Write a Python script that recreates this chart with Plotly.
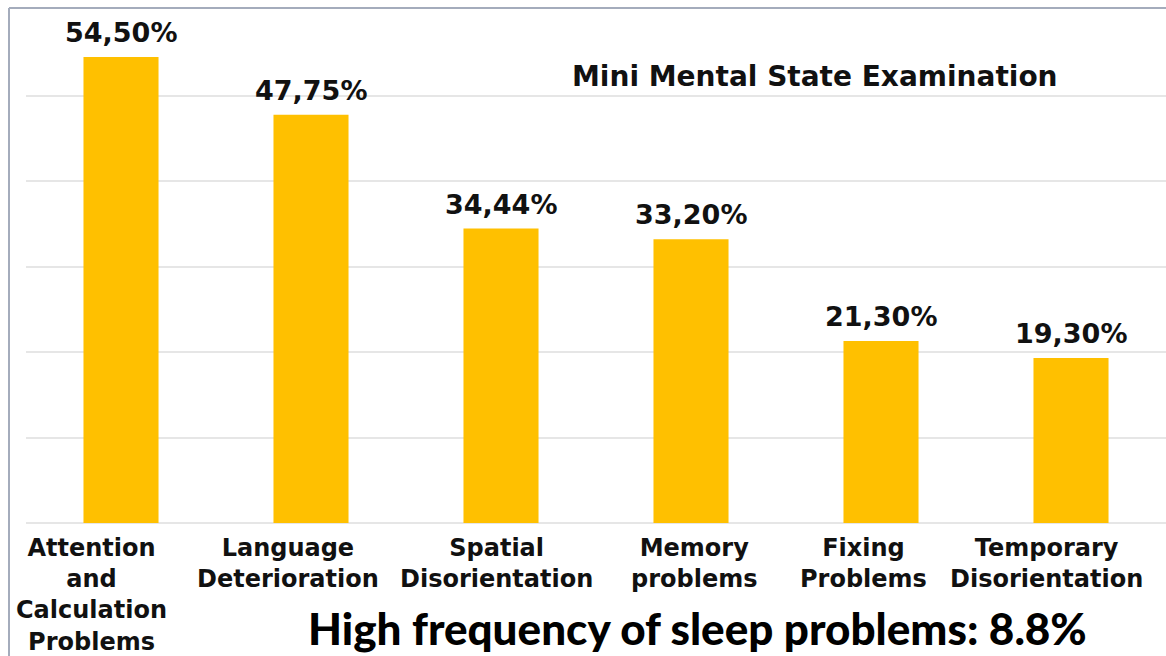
import plotly.graph_objects as go

categories = [
    "Attention<br>and<br>Calculation<br>Problems",
    "Language<br>Deterioration",
    "Spatial<br>Disorientation",
    "Memory<br>problems",
    "Fixing<br>Problems",
    "Temporary<br>Disorientation",
]
percentages = [54.50, 47.75, 34.44, 33.20, 21.30, 19.30]
y_ticks = [0, 10, 20, 30, 40, 50, 60]

title_text = "Mini Mental State Examination"
footer_text = "High frequency of sleep problems: 8.8%"

# horizontal nudges (px) so neighbouring category labels do not collide
label_nudge = [-30, -23, -5, 3, -18, -25]

BAR_COLOR = "#FFC000"
FRAME_COLOR = "#A4ACBC"
GRID_COLOR = "#E6E6E6"
LABEL_FONT = "DejaVu Sans"
TEXT_COLOR = "#111111"

fig = go.Figure(
    go.Bar(
        x=categories,
        y=percentages,
        marker=dict(color=BAR_COLOR, line=dict(width=0)),
        hoverinfo="skip",
    )
)

# value labels above each bar, decimal comma
for cat, val in zip(categories, percentages):
    fig.add_annotation(
        x=cat, y=val, xref="x", yref="y",
        text="<b>" + f"{val:.2f}%".replace(".", ",") + "</b>",
        showarrow=False, yanchor="bottom", yshift=7,
        font=dict(family=LABEL_FONT, size=27, color=TEXT_COLOR),
    )

# category labels under the axis
for cat, dx in zip(categories, label_nudge):
    fig.add_annotation(
        x=cat, y=0, xref="x", yref="y",
        text="<b>" + cat + "</b>",
        showarrow=False, xanchor="center", yanchor="top",
        xshift=dx, yshift=-9, align="center",
        font=dict(family=LABEL_FONT, size=24, color=TEXT_COLOR),
    )

fig.add_annotation(
    x=(815 - 26) / 1140, y=(523 - 76) / 513, xref="paper", yref="paper",
    text="<b>" + title_text + "</b>", showarrow=False,
    xanchor="center", yanchor="middle",
    font=dict(family=LABEL_FONT, size=28, color=TEXT_COLOR),
)

fig.add_annotation(
    x=(698 - 26) / 1140, y=(523 - 628) / 513, xref="paper", yref="paper",
    text=footer_text, showarrow=False,
    xanchor="center", yanchor="middle",
    font=dict(family="Lato", size=44, color="#000000", weight=900),
)

# outer frame: left and top edges
fig.add_shape(type="line", xref="paper", yref="paper",
              x0=(9 - 26) / 1140, x1=(9 - 26) / 1140,
              y0=(523 - 8) / 513, y1=(523 - 660) / 513,
              line=dict(color=FRAME_COLOR, width=2))
fig.add_shape(type="line", xref="paper", yref="paper",
              x0=(9 - 26) / 1140, x1=1.01,
              y0=(523 - 8) / 513, y1=(523 - 8) / 513,
              line=dict(color=FRAME_COLOR, width=2))

fig.update_layout(
    width=1166, height=656,
    margin=dict(l=26, r=0, t=10, b=133, autoexpand=False),
    paper_bgcolor="white", plot_bgcolor="white",
    bargap=0.605,
    showlegend=False,
    separators=", ",
)
fig.update_xaxes(range=[-0.5, len(categories) - 0.5],
                 showticklabels=False, showgrid=False, showline=False, ticks="")
fig.update_yaxes(
    range=[0, 60], tickvals=y_ticks, showticklabels=False,
    showgrid=True, gridcolor=GRID_COLOR, gridwidth=2,
    zeroline=True, zerolinecolor=GRID_COLOR, zerolinewidth=2,
    showline=False,
)

fig.write_html("out.html")
